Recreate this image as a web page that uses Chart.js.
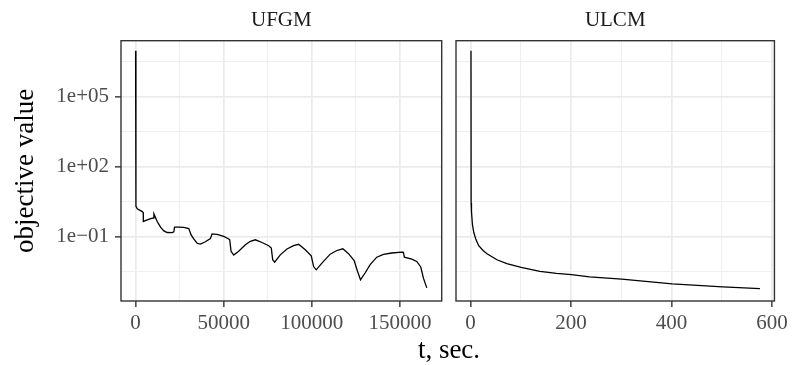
<!DOCTYPE html>
<html>
<head>
<meta charset="utf-8">
<script src="https://cdn.jsdelivr.net/npm/chart.js@4.4.1/dist/chart.umd.min.js"></script>
<style>
  html, body { margin: 0; padding: 0; background: #fff; }
  #wrap { position: relative; width: 792px; height: 365px; overflow: hidden; }
  #wrap canvas { position: absolute; top: 0; }
  #xlab { position: absolute; left: 349px; width: 200px; top: 336px; text-align: center;
          font: 27px/27px "Liberation Serif", serif; color: #000; }
</style>
</head>
<body>
<div id="wrap">
  <canvas id="ufgm" width="448" height="365" style="left:0"></canvas>
  <canvas id="ulcm" width="344" height="365" style="left:448px"></canvas>
  <div id="xlab">t, sec.</div>
</div>
<script>
/* ═══ data ═══ */
var facetNames = ['UFGM', 'ULCM'];
var yTitle = 'objective value';

var ufgmTime = [0, 200, 944, 3775, 4340, 4400, 6600, 10000, 10400, 12270, 14150, 16040, 17930, 20760,
  21700, 22100, 24540, 27370, 30200, 31500, 33000, 34900, 36800, 39600, 42460, 43400, 46250, 50000,
  52850, 53400, 54170, 55680, 58500, 62290, 65120, 67950, 71730, 75500, 77000, 77780, 78900, 82100,
  85880, 89660, 92490, 96270, 99670, 101000, 102500, 105700, 110400, 114200, 117600, 120800, 124000,
  125900, 127600, 130200, 133080, 136850, 140630, 145350, 151000, 151950, 152500, 156680, 159500,
  161800, 163300, 165200];
var ufgmValue = [9.3e6, 1.95, 1.55, 1.17, 1.07, 0.44, 0.51, 0.62, 0.93, 0.44, 0.25, 0.174, 0.148, 0.145,
  0.158, 0.25, 0.25, 0.245, 0.219, 0.117, 0.078, 0.051, 0.047, 0.059, 0.081, 0.129, 0.123, 0.100,
  0.078, 0.072, 0.023, 0.0158, 0.023, 0.044, 0.062, 0.072, 0.055, 0.040, 0.032, 0.010, 0.0079, 0.0162,
  0.029, 0.040, 0.046, 0.027, 0.0148, 0.0051, 0.0037, 0.0072, 0.0174, 0.025, 0.0295, 0.0182, 0.0093,
  0.0032, 0.00138, 0.0027, 0.0062, 0.0129, 0.0170, 0.0195, 0.0214, 0.0209, 0.0129, 0.0107, 0.0085,
  0.0049, 0.00162, 0.00062];

var ulcmTime = [1.0, 1.3, 2.0, 3.9, 6.6, 10.5, 16.4, 25, 32.9, 52.6, 72.4, 100.7, 138.2, 171, 200.7,
  236.9, 300.7, 401.4, 501.4, 575.8];
var ulcmValue = [9.3e6, 2.7, 1.17, 0.32, 0.148, 0.078, 0.040, 0.025, 0.0182, 0.0100, 0.0068, 0.0047,
  0.0032, 0.0026, 0.0023, 0.00186, 0.00148, 0.00093, 0.00069, 0.00058];

var yTicks = [0.1, 100, 100000];
var yTickLabels = ['1e\u221201', '1e+02', '1e+05'];
var yMinorTicks = [0.0031623, 3.1623, 3162.3, 3162278];
var yRange = [1.7e-4, 2.51e7];

var ufgmXTicks = [0, 50000, 100000, 150000];
var ufgmXLabels = ['0', '50000', '100000', '150000'];
var ufgmXMinor = [25000, 75000, 125000];
var ufgmXRange = [-8270, 173670];

var ulcmXTicks = [0, 200, 400, 600];
var ulcmXLabels = ['0', '200', '400', '600'];
var ulcmXMinor = [100, 300, 500];
var ulcmXRange = [-28.8, 604.6];

/* ═══ helpers ═══ */
var serif = '"Liberation Serif", serif';

function tickList(major, minor, labels) {
  var list = major.map(function (v, i) { return { value: v, isMajor: true, txt: labels[i] }; });
  minor.forEach(function (v) { list.push({ value: v, isMajor: false, txt: '' }); });
  return list.sort(function (a, b) { return a.value - b.value; });
}

var gridOpts = {
  color: function (c) { return c.tick && c.tick.isMajor ? '#EBEBEB' : '#EFEFEF'; },
  lineWidth: function (c) { return c.tick && c.tick.isMajor ? 1.7 : 1.1; },
  tickColor: function (c) { return c.tick && c.tick.isMajor ? '#333333' : 'rgba(0,0,0,0)'; },
  tickWidth: 1.4,
  tickLength: 6
};

var panelBorder = {
  id: 'panelBorder',
  afterDraw: function (chart) {
    var a = chart.chartArea, ctx = chart.ctx;
    ctx.save();
    ctx.strokeStyle = '#333333';
    ctx.lineWidth = 1.4;
    ctx.strokeRect(a.left, a.top, a.right - a.left, a.bottom - a.top);
    ctx.restore();
  }
};

function makePanel(id, name, xs, ys, xRange, xMajor, xMinor, xLabels, showY) {
  var pts = xs.map(function (x, i) { return { x: x, y: ys[i] }; });
  return new Chart(document.getElementById(id), {
    type: 'line',
    data: { datasets: [{ data: pts, borderColor: '#000', borderWidth: 1.3, pointRadius: 0, tension: 0, fill: false }] },
    plugins: [panelBorder],
    options: {
      responsive: false,
      animation: false,
      devicePixelRatio: 1,
      layout: { padding: { top: 8, bottom: 0, left: showY ? 0 : 8, right: showY ? 6.3 : 16 } },
      plugins: {
        legend: { display: false },
        tooltip: { enabled: false },
        title: {
          display: true, text: name, fullSize: false, color: '#1A1A1A',
          font: { family: serif, size: 21, weight: 'normal' }, padding: { top: 0, bottom: 7.5 }
        }
      },
      scales: {
        x: {
          type: 'linear', bounds: 'data', min: xRange[0], max: xRange[1],
          afterBuildTicks: function (s) { s.ticks = tickList(xMajor, xMinor, xLabels); },
          afterFit: function (s) { s.height = 64; },
          grid: gridOpts,
          border: { display: false },
          ticks: {
            autoSkip: false, maxRotation: 0, padding: 4, color: '#4D4D4D',
            font: { family: serif, size: 21 },
            callback: function (v, i, t) { return t[i].txt; }
          }
        },
        y: {
          type: 'logarithmic', bounds: 'data', min: yRange[0], max: yRange[1],
          afterBuildTicks: function (s) { s.ticks = tickList(yTicks, yMinorTicks, yTickLabels); },
          afterFit: function (s) { s.width = showY ? 121 : 0; },
          grid: showY ? gridOpts : Object.assign({}, gridOpts, { drawTicks: false }),
          border: { display: false },
          title: {
            display: showY, text: yTitle, color: '#000',
            font: { family: serif, size: 27, weight: 'normal' }, padding: { top: 10, bottom: 0 }
          },
          ticks: {
            display: showY, autoSkip: false, padding: 6, color: '#4D4D4D',
            font: { family: serif, size: 21 },
            callback: function (v, i, t) { return t[i].txt; }
          }
        }
      }
    }
  });
}

makePanel('ufgm', facetNames[0], ufgmTime, ufgmValue, ufgmXRange, ufgmXTicks, ufgmXMinor, ufgmXLabels, true);
makePanel('ulcm', facetNames[1], ulcmTime, ulcmValue, ulcmXRange, ulcmXTicks, ulcmXMinor, ulcmXLabels, false);
</script>
</body>
</html>
